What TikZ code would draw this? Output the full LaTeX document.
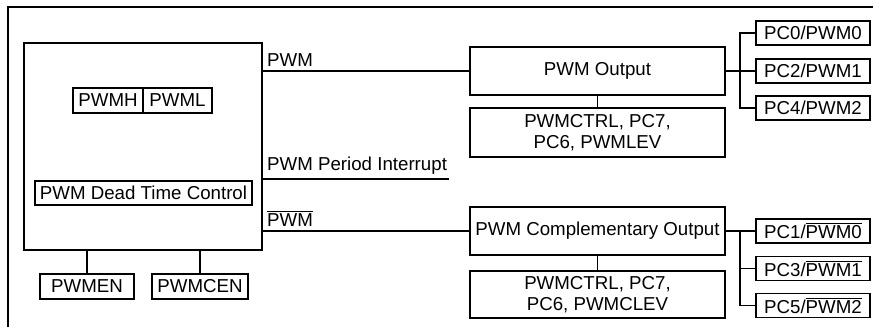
\documentclass[tikz,border=0pt]{standalone}
\usepackage{fontspec}
\setmainfont{Liberation Sans}
\newcommand{\ovl}[1]{\leavevmode\vbox{\hrule height 0.9pt\kern 1.6pt\hbox{#1}}}
\begin{document}
\begin{tikzpicture}[x=1pt,y=-1pt,
  every node/.style={font=\fontsize{18.7}{21.5}\selectfont},
  box/.style={draw, line width=1.1pt, inner sep=0pt, align=center},
  wire/.style={line width=1.1pt},
  lbl/.style={inner sep=0pt, anchor=south west}]
\useasboundingbox (0,0) rectangle (873,327);
% outer frame (partial)
\draw[wire] (873,7) -- (8,7) -- (8,327);
% main block
\node[box, minimum width=238pt, minimum height=207pt] (main) at (143,146.5) {};
\node[box, minimum width=70pt, minimum height=25pt] (pwmh) at (108,100.5) {PWMH};
\node[box, minimum width=69pt, minimum height=25pt] (pwml) at (177.5,100.5) {PWML};
\node[box, minimum width=217pt, minimum height=24pt] (dead) at (143.5,193) {PWM Dead Time Control};
\node[box, minimum width=94pt, minimum height=25pt] (pwmen) at (87,286.5) {PWMEN};
\node[box, minimum width=96pt, minimum height=25pt] (pwmcen) at (200,286.5) {PWMCEN};
\draw[wire] (pwmen.north) -- (pwmen.north |- main.south);
\draw[wire] (pwmcen.north) -- (pwmcen.north |- main.south);
% output blocks
\node[box, minimum width=255pt, minimum height=48pt] (out) at (597.5,71) {PWM Output};
\node[box, minimum width=255pt, minimum height=49pt] (ctrl1) at (597.5,132.5) {PWMCTRL, PC7,\\PC6, PWMLEV};
\node[box, minimum width=255pt, minimum height=48pt] (comp) at (597.5,231) {PWM Complementary Output};
\node[box, minimum width=255pt, minimum height=47pt] (ctrl2) at (597.5,294.5) {PWMCTRL, PC7,\\PC6, PWMCLEV};
\draw[wire] (out.south) -- (ctrl1.north);
\draw[wire] (comp.south) -- (ctrl2.north);
% signals
\draw[wire] (out.west) -- (out.west -| main.east);
\node[lbl] (lpwm) at (267,67) {PWM};
\coordinate (pi) at (449,179);
\draw[wire] (pi -| main.east) -- (pi);
\node[lbl] (lpi) at (267,175) {PWM Period Interrupt};
\draw[wire] (comp.west) -- (comp.west -| main.east);
\node[lbl] (lnpwm) at (267,227) {\ovl{PWM}};
% pins
\node[box, minimum width=114pt, minimum height=24pt] (pc0) at (813,33) {PC0/PWM0};
\node[box, minimum width=114pt, minimum height=24pt] (pc2) at (813,71) {PC2/PWM1};
\node[box, minimum width=114pt, minimum height=24pt] (pc4) at (813,108) {PC4/PWM2};
\node[box, minimum width=114pt, minimum height=24pt] (pc1) at (813,231) {PC1/\ovl{PWM0}};
\node[box, minimum width=114pt, minimum height=24pt] (pc3) at (813,268.5) {PC3/\ovl{PWM1}};
\node[box, minimum width=114pt, minimum height=24pt] (pc5) at (813,305.5) {PC5/\ovl{PWM2}};
\coordinate (j1) at (740,71);
\coordinate (j2) at (740,231);
\draw[wire] (out.east) -- (pc2.west);
\draw[wire] (pc0.west) -- (pc0.west -| j1) -- (pc4.west -| j1) -- (pc4.west);
\draw[wire] (comp.east) -- (pc1.west);
\draw[wire] (pc1.west -| j2) -- (pc5.west -| j2) -- (pc5.west);
\draw[wire] (pc3.west -| j2) -- (pc3.west);
\end{tikzpicture}
\end{document}
